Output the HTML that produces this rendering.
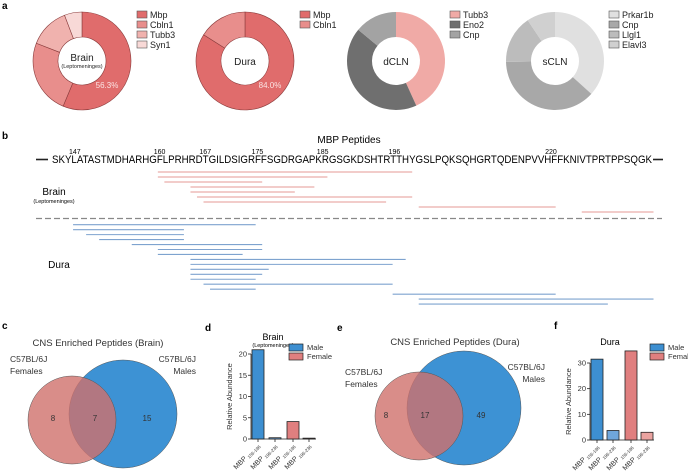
<!DOCTYPE html>
<html><head><meta charset="utf-8"><style>
html,body{margin:0;padding:0;background:#fff}
svg{display:block;font-family:"Liberation Sans",Arial,sans-serif}
</style></head><body>
<svg id="fig" width="688" height="473" viewBox="0 0 688 473">
<g id="gA"><text x="2" y="9" font-size="10" font-weight="bold">a</text></g>
<g id="gB">
<text x="2" y="139" font-size="10" font-weight="bold">b</text>
<text x="349" y="143" font-size="10" text-anchor="middle">MBP Peptides</text>
<line x1="36" y1="159.5" x2="48" y2="159.5" stroke="#222" stroke-width="1.6"/>
<text x="52" y="163" font-size="11" textLength="600" lengthAdjust="spacingAndGlyphs">SKYLATASTMDHARHGFLPRHRDTGILDSIGRFFSGDRGAPKRGSGKDSHTRTTHYGSLPQKSQHGRTQDENPVVHFFKNIVTPRTPPSQGK</text>
<line x1="653" y1="159.5" x2="663" y2="159.5" stroke="#222" stroke-width="1.6"/>
<text x="54" y="195" font-size="10" text-anchor="middle">Brain</text>
<text x="54" y="203" font-size="5.5" text-anchor="middle">(Leptomeninges)</text>
<line x1="36" y1="218.5" x2="662" y2="218.5" stroke="#888" stroke-width="1.3" stroke-dasharray="6,3"/>
<text x="59" y="268" font-size="10" text-anchor="middle">Dura</text>
</g>
<g id="gC">
<text x="2" y="329" font-size="10" font-weight="bold">c</text>
<text x="98" y="346" font-size="9.5" text-anchor="middle" fill="#333">CNS Enriched Peptides (Brain)</text>
<text x="10" y="362" font-size="8.5" fill="#333">C57BL/6J</text>
<text x="10" y="374" font-size="8.5" fill="#333">Females</text>
<text x="196" y="362" font-size="8.5" fill="#333" text-anchor="end">C57BL/6J</text>
<text x="196" y="374" font-size="8.5" fill="#333" text-anchor="end">Males</text>
<circle cx="123" cy="414" r="54" fill="#3d92d4" stroke="#555" stroke-width="0.5"/>
<circle cx="72" cy="420" r="44" fill="#d0706b" fill-opacity="0.8" stroke="#555" stroke-width="0.5"/>
<text x="53" y="421" font-size="8" text-anchor="middle" fill="#333">8</text>
<text x="95" y="421" font-size="8" text-anchor="middle" fill="#333">7</text>
<text x="147" y="421" font-size="8" text-anchor="middle" fill="#333">15</text>
</g>
<g id="gD">
<text x="205" y="331" font-size="10" font-weight="bold">d</text>
<text x="273" y="340" font-size="9" text-anchor="middle">Brain</text>
<text x="273" y="347" font-size="5.5" text-anchor="middle">(Leptomeninges)</text>
</g>
<g id="gE">
<text x="337" y="331" font-size="10" font-weight="bold">e</text>
<circle cx="464" cy="408" r="57" fill="#3d92d4" stroke="#555" stroke-width="0.5"/>
<circle cx="419" cy="416" r="44" fill="#d0706b" fill-opacity="0.8" stroke="#555" stroke-width="0.5"/>
<text x="455" y="345" font-size="9.5" text-anchor="middle" fill="#333">CNS Enriched Peptides (Dura)</text>
<text x="345" y="375" font-size="8.5" fill="#333">C57BL/6J</text>
<text x="345" y="387" font-size="8.5" fill="#333">Females</text>
<text x="545" y="370" font-size="8.5" fill="#333" text-anchor="end">C57BL/6J</text>
<text x="545" y="382" font-size="8.5" fill="#333" text-anchor="end">Males</text>
<text x="386" y="418" font-size="8" text-anchor="middle" fill="#333">8</text>
<text x="425" y="418" font-size="8" text-anchor="middle" fill="#333">17</text>
<text x="481" y="418" font-size="8" text-anchor="middle" fill="#333">49</text>
</g>
<g id="gF">
<text x="554" y="329" font-size="10" font-weight="bold">f</text>
<text x="610" y="345" font-size="9" text-anchor="middle">Dura</text>
</g>
</svg>
<script>
const NS="http://www.w3.org/2000/svg";
// ---- Panel a data ----
const brainGenes=["Mbp","Cbln1","Tubb3","Syn1"];
const brainShares=[56.3,24.6,13.3,5.8];
const duraGenes=["Mbp","Cbln1"];
const duraShares=[84.0,16.0];
const dclnGenes=["Tubb3","Eno2","Cnp"];
const dclnShares=[43.2,42.8,14.0];
const sclnGenes=["Prkar1b","Cnp","Llgl1","Elavl3"];
const sclnShares=[36.7,38.0,15.9,9.4];
// ---- Panel b data (residue numbers) ----
const residueTicks=[147,160,167,175,185,196,220];
const brainPepStart=[160,160,161,165,165,166,167,200,225];
const brainPepEnd=[198,185,175,183,180,198,194,220,235];
const duraPepStart=[147,147,149,151,156,160,160,165,165,165,165,165,167,168,196,200,200];
const duraPepEnd=[174,163,163,163,175,175,172,197,195,176,175,174,195,174,220,235,228];
// ---- Panel d / f data ----
const barCats=["156-196","196-236","156-196","196-236"];
const brainAbund=[21,0.3,4.1,0.2];
const duraAbund=[31.5,3.7,34.7,3.0];
const brainTicks=[0,5,10,15,20];
const duraTicks=[0,10,20,30];

function mk(tag,attrs,parent){const e=document.createElementNS(NS,tag);for(const k in attrs)e.setAttribute(k,attrs[k]);parent.appendChild(e);return e;}

function pie(cx,cy,ro,ri,shares,genes,colors,stroke,legendX,labelArr,name){
  const g=document.getElementById("gA");
  const tot=shares.reduce((a,b)=>a+b,0);
  let a0=0;
  shares.forEach((v,i)=>{
    const a1=a0+v/tot*2*Math.PI;
    const p=(a,r)=>[cx+r*Math.sin(a),cy-r*Math.cos(a)];
    const [x0,y0]=p(a0,ro),[x1,y1]=p(a1,ro),[x2,y2]=p(a1,ri),[x3,y3]=p(a0,ri);
    const lg=(a1-a0)>Math.PI?1:0;
    const s=mk("path",{d:`M${x0},${y0}A${ro},${ro} 0 ${lg} 1 ${x1},${y1}L${x2},${y2}A${ri},${ri} 0 ${lg} 0 ${x3},${y3}Z`,fill:colors[i],stroke:stroke,"stroke-width":stroke==="none"?0:0.6},g);
    
    
    const ly=15+i*10;
    const b=mk("rect",{x:legendX,y:ly-4,width:10,height:7,fill:colors[i],stroke:"#555","stroke-width":0.6},g);
    
    
    const t=mk("text",{x:legendX+13,y:ly+3,"font-size":9,fill:"#222"},g);t.textContent=genes[i];
    
    
    a0=a1;
  });
  labelArr.forEach(l=>{const t=mk("text",{x:l.x,y:l.y,"font-size":l.fs,"text-anchor":"middle",fill:l.c||"#222"},g);t.textContent=l.t;
    
    });
}
const red=["#e06c6c","#e88e8c","#f0b2ae","#f8d9d7"];
pie(82,61,49,24,brainShares,brainGenes,red,"#8a3c3c",137,[{x:82,y:61,t:"Brain",fs:10},{x:82,y:68,t:"(Leptomeninges)",fs:5.5},{x:107,y:88,t:brainShares[0].toFixed(1)+"%",fs:8,c:"#fbe3e3"}],"brain-pie");
pie(245,61,49,24,duraShares,duraGenes,red,"#8a3c3c",300,[{x:245,y:65,t:"Dura",fs:10},{x:270,y:88,t:duraShares[0].toFixed(1)+"%",fs:8,c:"#fbe3e3"}],"dura-pie");
pie(396,61,49,24,dclnShares,dclnGenes,["#f0aaa6","#6f6f6f","#a3a3a3"],"none",450,[{x:396,y:65,t:"dCLN",fs:10}],"dcln-pie");
pie(555,61,49,24,sclnShares,sclnGenes,["#e0e0e0","#a8a8a8","#bcbcbc","#d0d0d0"],"none",609,[{x:555,y:65,t:"sCLN",fs:10}],"scln-pie");

// Panel b
const CW=600/92;
const xL=r=>53.5+(r-144)*CW, xR=r=>53.5+(r-143)*CW, xC=r=>52+(r-143.5)*CW;
const gB=document.getElementById("gB");
residueTicks.forEach(r=>{const t=mk("text",{x:xC(r),y:154,"font-size":7,"text-anchor":"middle"},gB);t.textContent=r;
  
  });
brainPepStart.forEach((s,i)=>{const y=172+i*5;const l=mk("line",{x1:xL(s),x2:xR(brainPepEnd[i]),y1:y,y2:y,stroke:"#e59a94","stroke-width":1},gB);
  
  });
duraPepStart.forEach((s,i)=>{const y=224.7+i*4.96;const l=mk("line",{x1:xL(s),x2:xR(duraPepEnd[i]),y1:y,y2:y,stroke:"#7ea3cf","stroke-width":1.1},gB);
  
  });

// Bar charts
function bars(gid,x0,x1,y0,yTop,maxV,ticks,vals,barX,legX,name){
  const g=document.getElementById(gid);
  const ys=v=>y0-(v/maxV)*(y0-yTop);
  const cols=["#3d8fd1","#6fa6db","#e07f7f","#eaa3a0"];
  mk("line",{x1:x0,x2:x0,y1:y0,y2:yTop,stroke:"#222","stroke-width":0.8},g);
  mk("line",{x1:x0,x2:x1,y1:y0,y2:y0,stroke:"#222","stroke-width":0.8},g);
  ticks.forEach(t=>{
    const tk=mk("line",{x1:x0-3,x2:x0,y1:ys(t),y2:ys(t),stroke:"#222","stroke-width":0.8},g);
    
    
    const tx=mk("text",{x:x0-4,y:ys(t)+2.5,"font-size":7.5,"text-anchor":"end",fill:"#333"},g);tx.textContent=t;
    
    
  });
  vals.forEach((v,i)=>{
    const bx=barX[i];
    const r=mk("rect",{x:bx,y:ys(v),width:12,height:y0-ys(v),fill:cols[i],stroke:"#222","stroke-width":0.8},g);
    
    
    const cx=bx+6;
    mk("line",{x1:cx,x2:cx,y1:y0,y2:y0+3,stroke:"#222","stroke-width":0.8},g);
    const t=mk("text",{transform:`translate(${cx+2},${y0+7}) rotate(-45)`,"font-size":7,"text-anchor":"end",fill:"#333"},g);
    t.innerHTML='MBP <tspan font-size="4.5" dy="1.5">'+barCats[i]+'</tspan>';
    
    
  });
  const yl=mk("text",{transform:`translate(${x0-19},${(y0+yTop)/2}) rotate(-90)`,"font-size":7.5,"text-anchor":"middle",fill:"#333"},g);
  yl.textContent="Relative Abundance";
  
  
  [["Male","#3d8fd1"],["Female","#e07f7f"]].forEach((e,i)=>{
    const r=mk("rect",{x:legX,y:344+i*9,width:14,height:7,fill:e[1],stroke:"#222","stroke-width":0.7},g);
    
    
    const t=mk("text",{x:legX+18,y:350+i*9,"font-size":7.5,fill:"#333"},g);t.textContent=e[0];
    
    
  });
}
bars("gD",251,316,439,354,20,brainTicks,brainAbund,[252,269,287,303],289,"brain-bar");
bars("gF",590,654,440,363,30,duraTicks,duraAbund,[591,607,625,641],650,"dura-bar");
</script>
</body></html>
